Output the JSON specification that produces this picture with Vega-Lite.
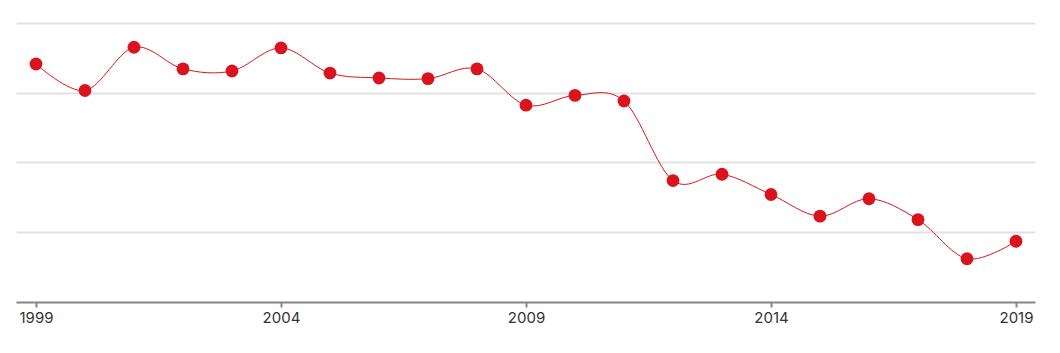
{
  "$schema": "https://vega.github.io/schema/vega-lite/v6.json",
  "width": 1019,
  "height": 302,
  "autosize": "none",
  "padding": {"left": 16, "top": 0, "right": 25, "bottom": 51},
  "background": "white",
  "config": {"view": {"stroke": null}},
  "data": {
    "values": [
      {"year": 1999, "value": 3.41},
      {"year": 2000, "value": 3.03},
      {"year": 2001, "value": 3.65},
      {"year": 2002, "value": 3.34},
      {"year": 2003, "value": 3.31},
      {"year": 2004, "value": 3.64},
      {"year": 2005, "value": 3.28},
      {"year": 2006, "value": 3.21},
      {"year": 2007, "value": 3.20},
      {"year": 2008, "value": 3.34},
      {"year": 2009, "value": 2.82},
      {"year": 2010, "value": 2.96},
      {"year": 2011, "value": 2.88},
      {"year": 2012, "value": 1.74},
      {"year": 2013, "value": 1.83},
      {"year": 2014, "value": 1.54},
      {"year": 2015, "value": 1.23},
      {"year": 2016, "value": 1.48},
      {"year": 2017, "value": 1.18},
      {"year": 2018, "value": 0.62},
      {"year": 2019, "value": 0.87}
    ]
  },
  "encoding": {
    "x": {
      "field": "year",
      "type": "quantitative",
      "scale": {"domain": [1998.592, 2019.388], "nice": false, "zero": false},
      "axis": {
        "title": null,
        "values": [1999, 2004, 2009, 2014, 2019],
        "format": "d",
        "grid": false,
        "domainColor": "#858585",
        "domainWidth": 2,
        "tickColor": "#858585",
        "tickWidth": 2,
        "tickSize": 5,
        "labelFont": "Inter",
        "labelFontSize": 15,
        "labelColor": "#333333",
        "labelPadding": 3
      }
    },
    "y": {
      "field": "value",
      "type": "quantitative",
      "scale": {"domain": [0, 4.327], "nice": false},
      "axis": {
        "title": null,
        "values": [1, 2, 3, 4],
        "labels": false,
        "ticks": false,
        "domain": false,
        "grid": true,
        "gridColor": "#e2e2e2",
        "gridWidth": 2
      }
    }
  },
  "layer": [
    {
      "mark": {"type": "line", "color": "#d9141e", "strokeWidth": 1, "interpolate": "cardinal"}
    },
    {
      "mark": {"type": "point", "filled": true, "color": "#d9141e", "opacity": 1, "size": 165}
    }
  ]
}
